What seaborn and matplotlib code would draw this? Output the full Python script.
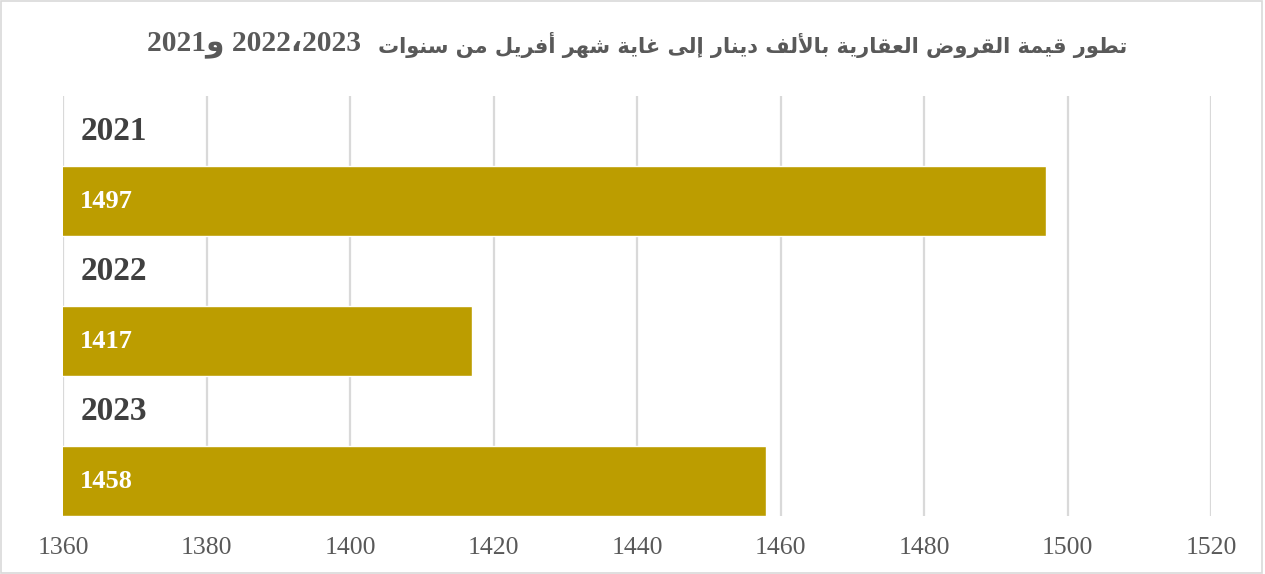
import unicodedata
import matplotlib
matplotlib.use("Agg")
import matplotlib.pyplot as plt
from matplotlib.patches import Rectangle
import seaborn as sns

# data
years = ["2021", "2022", "2023"]
loans = [1497, 1417, 1458]
x_ticks = [1360, 1380, 1400, 1420, 1440, 1460, 1480, 1500, 1520]
title_words = "تطور قيمة القروض العقارية بالألف دينار إلى غاية شهر أفريل من سنوات".split()
title_years = ["2023", "2022", "2021"]

BAR_COLOR = "#BC9D00"
SERIF = ["Liberation Serif", "DejaVu Serif"]


# minimal arabic shaping (matplotlib has no complex text layout)
FORMS = {}
LIGS = {}
for cp in range(0xFE70, 0xFEFD):
    d = unicodedata.decomposition(chr(cp)).split()
    if len(d) == 2 and d[0] in ("<isolated>", "<final>", "<initial>", "<medial>"):
        FORMS[(chr(int(d[1], 16)), d[0][1:-1])] = chr(cp)
    elif len(d) == 3 and d[1] == "0644" and cp >= 0xFEF5:
        LIGS[(chr(int(d[2], 16)), d[0][1:-1])] = chr(cp)


def shape(word):
    units = []
    i = 0
    while i < len(word):
        if word[i] == "ل" and i + 1 < len(word) and (word[i + 1], "isolated") in LIGS:
            units.append(("LA", word[i + 1]))
            i += 2
        else:
            units.append(word[i])
            i += 1

    def dual(u):
        return not isinstance(u, tuple) and (u, "initial") in FORMS

    out = []
    for k, u in enumerate(units):
        prev = k > 0 and dual(units[k - 1])
        nxt = k < len(units) - 1 and dual(u)
        if isinstance(u, tuple):
            out.append(LIGS[(u[1], "final" if prev else "isolated")])
            continue
        form = {(True, True): "medial", (True, False): "final",
                (False, True): "initial", (False, False): "isolated"}[(prev, nxt)]
        out.append(FORMS.get((u, form), FORMS.get((u, "isolated"), u)))
    return "".join(reversed(out))


arabic_part = " ".join(shape(w) for w in reversed(title_words))
number_part = title_years[2] + shape("و") + " " + title_years[1] + "،" + title_years[0]

sns.set_theme(style="white")
plt.rcParams["font.family"] = SERIF

fig = plt.figure(figsize=(12.65, 5.74), dpi=100)
ax = fig.add_axes([63 / 1265, 1 - 516 / 574, 1148 / 1265, 420 / 574])

sns.barplot(x=loans, y=years, orient="h", width=0.5, color=BAR_COLOR,
            saturation=1, ax=ax)

ax.set_xlim(1360, 1520)
ax.set_ylim(2.25, -0.75)
ax.set_xticks(x_ticks)
ax.set_xticklabels([str(t) for t in x_ticks], fontsize=18.5, color="#595959")
ax.tick_params(axis="x", length=0, pad=15)
ax.set_yticks([])
ax.set_xlabel("")
ax.set_ylabel("")
ax.xaxis.grid(True, color="#D9D9D9", linewidth=1.6)
ax.set_axisbelow(True)
for s in ax.spines.values():
    s.set_visible(False)

for i, (yr, v) in enumerate(zip(years, loans)):
    ax.text(1362.4, i - 0.5, yr, fontsize=24, fontweight="bold", color="#404040",
            va="center", ha="left")
    ax.text(1362.4, i, str(v), fontsize=19, fontweight="bold", color="white",
            va="center", ha="left")

# title: numbers on the left, arabic words on the right (rtl line)
fig.text(1127 / 1265, 1 - 45 / 574, arabic_part, fontsize=15.1, fontweight="bold",
         color="#595959", ha="right", va="center", family=["DejaVu Sans"])
fig.text(147 / 1265, 1 - 45 / 574, number_part, fontsize=21.3, fontweight="bold",
         color="#595959", ha="left", va="center",
         family=["Liberation Serif", "DejaVu Sans"])

fig.patches.append(Rectangle((0.001, 0.002), 0.997, 0.996, transform=fig.transFigure,
                             fill=False, edgecolor="#D9D9D9", linewidth=1.2))

fig.savefig("out.png", dpi=100)
